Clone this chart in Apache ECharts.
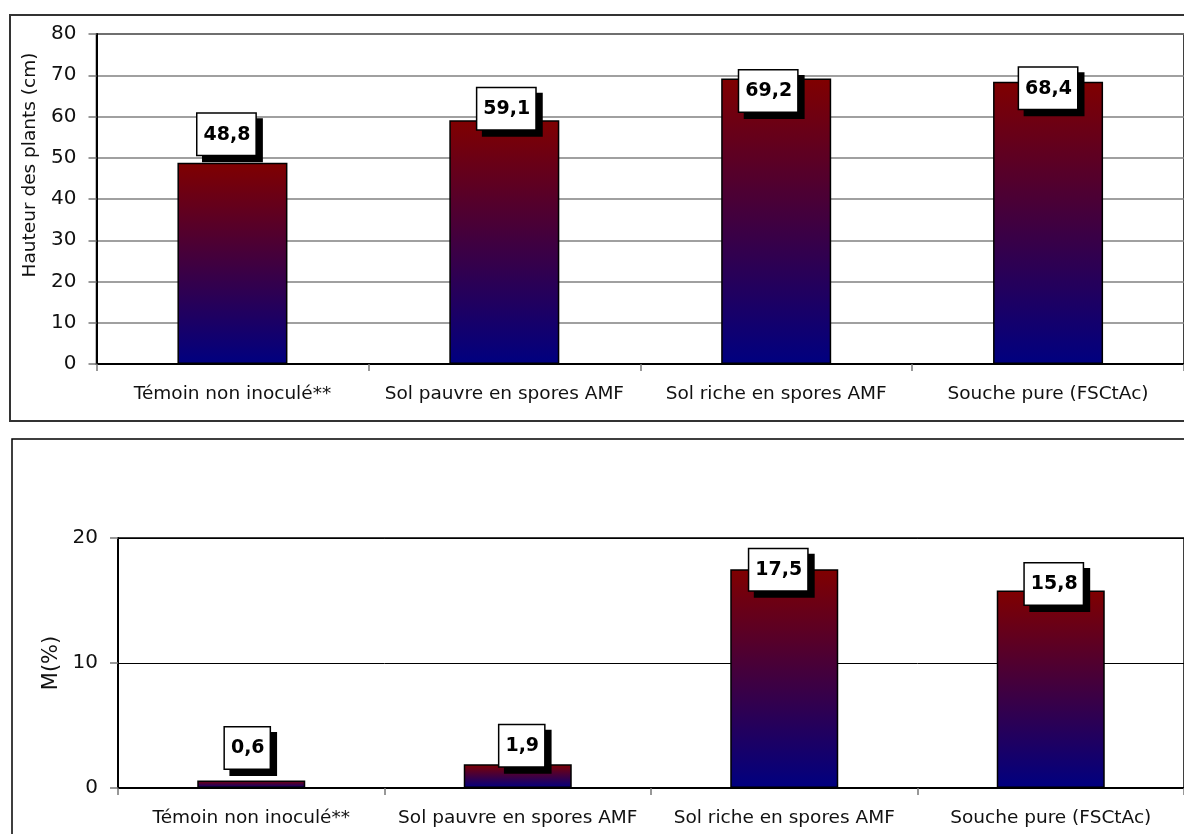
<!DOCTYPE html>
<html>
<head>
<meta charset="utf-8">
<script src="https://cdn.jsdelivr.net/npm/echarts@6/dist/echarts.min.js"></script>
<style>
  html, body { margin: 0; padding: 0; background: #fff; }
  #chart { width: 1184px; height: 834px; }
</style>
</head>
<body>
<div id="chart"></div>
<script>
// Treatments compared in both panels
const categories = [
  'Témoin non inoculé**',
  'Sol pauvre en spores AMF',
  'Sol riche en spores AMF',
  'Souche pure (FSCtAc)'
];
// Plant height (cm)
const hauteur = [48.8, 59.1, 69.2, 68.4];
// Mycorrhizal colonisation M (%)
const mycorhization = [0.6, 1.9, 17.5, 15.8];

const hauteurAxis = { min: 0, max: 80, interval: 10 };
const mAxis = { min: 0, max: 20, interval: 10 };

// Hand-placed label nudges [dx, dy] for each bar, per panel
const hauteurLabelShift = [[-6, -8], [2, 9], [-8, 33], [0, 27]];
const mLabelShift = [[-4, -12], [4, 2], [-6, 21], [3, 14]];

const FONT = 'DejaVu Sans';

const barFill = new echarts.graphic.LinearGradient(0, 0, 0, 1, [
  { offset: 0, color: '#800000' },
  { offset: 1, color: '#000080' }
]);

function frDecimal(v) { return String(v).replace('.', ','); }

function buildData(values, shifts) {
  return values.map((v, i) => ({
    value: v,
    label: { offset: shifts[i] }
  }));
}

const labelStyle = {
  show: true,
  position: 'top',
  distance: 0,
  formatter: p => frDecimal(p.value),
  fontFamily: FONT,
  fontWeight: 'bold',
  fontSize: 19,
  lineHeight: 22,
  color: '#000',
  backgroundColor: '#fff',
  borderColor: '#000',
  borderWidth: 1.5,
  padding: [10, 5, 9, 6],
  shadowColor: '#000',
  shadowBlur: 0,
  shadowOffsetX: 6,
  shadowOffsetY: 6
};

function catAxis(gridIndex) {
  return {
    type: 'category',
    gridIndex,
    data: categories,
    boundaryGap: true,
    axisLine: { lineStyle: { color: '#000', width: 2 } },
    axisTick: { show: true, length: 7, inside: false, lineStyle: { color: '#777', width: 1.5 } },
    axisLabel: { interval: 0, fontFamily: FONT, fontSize: 18.5, color: '#111', margin: 21 }
  };
}

// namePadding shifts the rotated axis title along the axis
function valAxis(gridIndex, scale, name, nameSize, namePadding, splitColor, splitWidth) {
  return {
    type: 'value',
    gridIndex,
    min: scale.min,
    max: scale.max,
    interval: scale.interval,
    name,
    nameLocation: 'middle',
    nameGap: 56,
    nameTextStyle: { fontFamily: FONT, fontSize: nameSize, color: '#111', padding: namePadding },
    axisLine: { show: true, lineStyle: { color: '#000', width: 2 } },
    axisTick: { show: true, length: 8, lineStyle: { color: '#777', width: 1.5 } },
    axisLabel: { fontFamily: FONT, fontSize: 20, color: '#111', margin: 20 },
    splitLine: { show: true, lineStyle: { color: splitColor, width: splitWidth } }
  };
}

const chart = echarts.init(document.getElementById('chart'), null, { renderer: 'canvas' });

chart.setOption({
  backgroundColor: '#fff',
  animation: false,
  graphic: [
    { type: 'rect', shape: { x: 10, y: 15, width: 1200, height: 406 },
      style: { fill: 'none', stroke: '#333', lineWidth: 2 }, z: -10 },
    { type: 'rect', shape: { x: 12, y: 439, width: 1200, height: 420 },
      style: { fill: 'none', stroke: '#000', lineWidth: 1.5 }, z: -10 }
  ],
  grid: [
    { left: 96.5, top: 34, width: 1092, height: 330, show: true, borderColor: '#000', borderWidth: 1.5, backgroundColor: 'transparent' },
    { left: 118, top: 538, width: 1070, height: 250, show: true, borderColor: '#000', borderWidth: 1.5, backgroundColor: 'transparent' }
  ],
  xAxis: [catAxis(0), catAxis(1)],
  yAxis: [
    valAxis(0, hauteurAxis, 'Hauteur des plants (cm)', 18.5, [0, 0, 0, 68], '#808080', 1.5),
    valAxis(1, mAxis, 'M(%)', 21, 0, '#000', 1)
  ],
  series: [
    {
      type: 'bar',
      xAxisIndex: 0,
      yAxisIndex: 0,
      barWidth: 110,
      data: buildData(hauteur, hauteurLabelShift),
      itemStyle: { color: barFill, borderColor: '#000', borderWidth: 1.5 },
      label: labelStyle
    },
    {
      type: 'bar',
      xAxisIndex: 1,
      yAxisIndex: 1,
      barWidth: 108,
      data: buildData(mycorhization, mLabelShift),
      itemStyle: { color: barFill, borderColor: '#000', borderWidth: 1.5 },
      label: labelStyle
    }
  ]
});
</script>
</body>
</html>
